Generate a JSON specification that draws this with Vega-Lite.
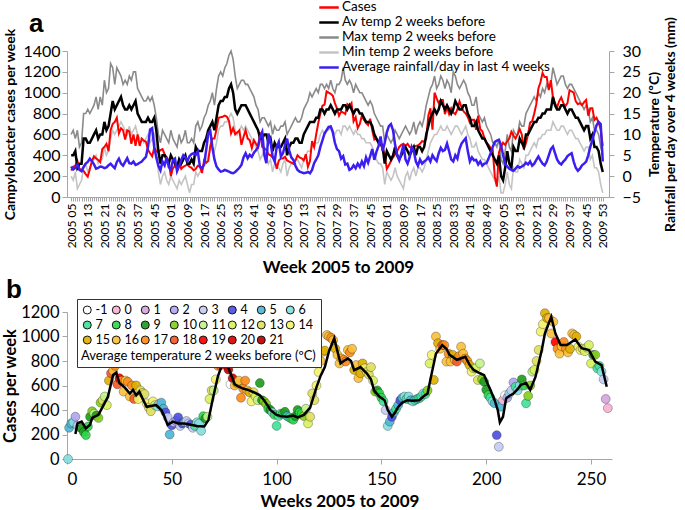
{
"$schema":"https://vega.github.io/schema/vega-lite/v6.json",
"padding":{"left":2,"top":0,"right":0,"bottom":0},
"config":{"font":"Lato","view":{"stroke":null},"axis":{"grid":false,"domainColor":"#a6a6a6","tickColor":"#a6a6a6","labelColor":"#000","titleColor":"#000"}},
"datasets":{
"wk":[
{"i":1,"c":255,"t":5,"x":10,"n":0,"r":2.3},{"i":2,"c":290,"t":5,"x":11,"n":-1,"r":1.6},{"i":3,"c":300,"t":6,"x":9,"n":1,"r":2.0},{"i":4,"c":345,"t":2,"x":11,"n":-3,"r":2.8},{"i":5,"c":270,"t":3,"x":7,"n":-2,"r":1.5},{"i":6,"c":260,"t":3,"x":8,"n":-1,"r":1.2},{"i":7,"c":250,"t":9,"x":15,"n":2,"r":2.2},{"i":8,"c":220,"t":9,"x":15,"n":3,"r":3.0},{"i":9,"c":195,"t":8,"x":16,"n":1,"r":3.4},{"i":10,"c":265,"t":8,"x":15,"n":2,"r":4.2},
{"i":11,"c":345,"t":9,"x":16,"n":3,"r":3.6},{"i":12,"c":390,"t":10,"x":17,"n":4,"r":2.8},{"i":13,"c":370,"t":11,"x":19,"n":5,"r":1.8},{"i":14,"c":355,"t":9,"x":16,"n":3,"r":2.0},{"i":15,"c":335,"t":10,"x":19,"n":4,"r":2.3},{"i":16,"c":460,"t":10,"x":17,"n":4,"r":2.2},{"i":17,"c":480,"t":13,"x":23,"n":7,"r":1.9},{"i":18,"c":510,"t":11,"x":20,"n":5,"r":2.1},{"i":19,"c":440,"t":12,"x":21,"n":6,"r":2.6},{"i":20,"c":640,"t":15,"x":27,"n":9,"r":3.0},
{"i":21,"c":700,"t":18,"x":26,"n":11,"r":2.4},{"i":22,"c":720,"t":16,"x":22,"n":10,"r":1.9},{"i":23,"c":760,"t":17,"x":26,"n":11,"r":3.4},{"i":24,"c":610,"t":18,"x":25,"n":12,"r":4.2},{"i":25,"c":660,"t":19,"x":24,"n":13,"r":3.0},{"i":26,"c":640,"t":17,"x":22,"n":12,"r":2.5},{"i":27,"c":550,"t":16,"x":23,"n":11,"r":3.4},{"i":28,"c":640,"t":16,"x":22,"n":10,"r":4.3},{"i":29,"c":630,"t":17,"x":24,"n":12,"r":3.1},{"i":30,"c":510,"t":16,"x":23,"n":10,"r":3.0},
{"i":31,"c":600,"t":17,"x":25,"n":11,"r":3.5},{"i":32,"c":490,"t":18,"x":25,"n":12,"r":2.7},{"i":33,"c":600,"t":15,"x":21,"n":10,"r":2.9},{"i":34,"c":490,"t":14,"x":20,"n":9,"r":3.2},{"i":35,"c":560,"t":13,"x":19,"n":9,"r":3.5},{"i":36,"c":540,"t":13,"x":18,"n":8,"r":4.1},{"i":37,"c":530,"t":13,"x":18,"n":9,"r":4.6},{"i":38,"c":455,"t":14,"x":19,"n":10,"r":7.0},{"i":39,"c":420,"t":13,"x":18,"n":8,"r":11.2},{"i":40,"c":390,"t":13,"x":19,"n":9,"r":11.5},
{"i":41,"c":470,"t":14,"x":17,"n":10,"r":7.0},{"i":42,"c":440,"t":11,"x":14,"n":7,"r":4.5},{"i":43,"c":430,"t":6,"x":10,"n":1,"r":2.5},{"i":44,"c":450,"t":3,"x":8,"n":-2,"r":1.4},{"i":45,"c":460,"t":5,"x":11,"n":0,"r":3.5},{"i":46,"c":410,"t":5,"x":10,"n":1,"r":2.6},{"i":47,"c":380,"t":4,"x":9,"n":-1,"r":4.6},{"i":48,"c":340,"t":3,"x":8,"n":-2,"r":2.2},{"i":49,"c":200,"t":5,"x":11,"n":0,"r":1.5},{"i":50,"c":275,"t":4,"x":9,"n":-1,"r":3.8},
{"i":51,"c":300,"t":3,"x":8,"n":-2,"r":4.2},{"i":52,"c":310,"t":2,"x":7,"n":-3,"r":1.2},{"i":53,"c":340,"t":4,"x":10,"n":-1,"r":2.4},{"i":54,"c":270,"t":3,"x":8,"n":-2,"r":3.8},{"i":55,"c":290,"t":4,"x":9,"n":-1,"r":5.0},{"i":56,"c":300,"t":5,"x":11,"n":0,"r":4.5},{"i":57,"c":310,"t":3,"x":8,"n":-2,"r":3.6},{"i":58,"c":290,"t":3,"x":8,"n":-4,"r":4.8},{"i":59,"c":280,"t":4,"x":9,"n":-2,"r":5.3},{"i":60,"c":255,"t":3,"x":8,"n":-2,"r":5.5},
{"i":61,"c":270,"t":7,"x":12,"n":1,"r":5.1},{"i":62,"c":300,"t":6,"x":13,"n":0,"r":5.9},{"i":63,"c":290,"t":6,"x":11,"n":1,"r":2.3},{"i":64,"c":230,"t":6,"x":12,"n":1,"r":1.9},{"i":65,"c":350,"t":8,"x":14,"n":3,"r":2.7},{"i":66,"c":330,"t":9,"x":15,"n":3,"r":6.2},{"i":67,"c":345,"t":11,"x":17,"n":5,"r":10.2},{"i":68,"c":490,"t":12,"x":18,"n":6,"r":10.8},{"i":69,"c":560,"t":13,"x":20,"n":7,"r":7.0},{"i":70,"c":560,"t":11,"x":17,"n":6,"r":4.0},
{"i":71,"c":650,"t":14,"x":21,"n":8,"r":2.3},{"i":72,"c":760,"t":17,"x":24,"n":11,"r":1.6},{"i":73,"c":765,"t":18,"x":25,"n":12,"r":1.1},{"i":74,"c":770,"t":18,"x":24,"n":12,"r":1.2},{"i":75,"c":780,"t":19,"x":26,"n":13,"r":1.5},{"i":76,"c":770,"t":19,"x":27,"n":13,"r":1.3},{"i":77,"c":730,"t":21,"x":29,"n":14,"r":1.1},{"i":78,"c":610,"t":22,"x":30,"n":15,"r":0.8},{"i":79,"c":660,"t":20,"x":28,"n":14,"r":0.7},{"i":80,"c":600,"t":16,"x":24,"n":11,"r":1.0},
{"i":81,"c":620,"t":15,"x":21,"n":10,"r":1.5},{"i":82,"c":640,"t":16,"x":22,"n":11,"r":2.0},{"i":83,"c":500,"t":17,"x":23,"n":12,"r":2.7},{"i":84,"c":575,"t":17,"x":23,"n":11,"r":4.5},{"i":85,"c":640,"t":17,"x":22,"n":12,"r":5.5},{"i":86,"c":560,"t":16,"x":22,"n":11,"r":4.3},{"i":87,"c":545,"t":15,"x":21,"n":10,"r":5.1},{"i":88,"c":470,"t":14,"x":20,"n":9,"r":4.6},{"i":89,"c":545,"t":13,"x":19,"n":8,"r":5.6},{"i":90,"c":510,"t":12,"x":17,"n":7,"r":6.2},
{"i":91,"c":480,"t":11,"x":16,"n":6,"r":7.0},{"i":92,"c":620,"t":9,"x":13,"n":4,"r":9.5},{"i":93,"c":480,"t":9,"x":14,"n":5,"r":10.6},{"i":94,"c":470,"t":10,"x":14,"n":6,"r":5.1},{"i":95,"c":450,"t":10,"x":13,"n":5,"r":3.1},{"i":96,"c":410,"t":8,"x":12,"n":3,"r":10.2},{"i":97,"c":400,"t":9,"x":13,"n":4,"r":8.2},{"i":98,"c":380,"t":6,"x":10,"n":1,"r":4.7},{"i":99,"c":360,"t":8,"x":12,"n":3,"r":3.5},{"i":100,"c":270,"t":7,"x":11,"n":2,"r":7.0},
{"i":101,"c":350,"t":7,"x":11,"n":2,"r":8.2},{"i":102,"c":370,"t":7,"x":12,"n":1,"r":4.7},{"i":103,"c":370,"t":8,"x":12,"n":3,"r":5.5},{"i":104,"c":385,"t":9,"x":13,"n":4,"r":7.5},{"i":105,"c":350,"t":5,"x":10,"n":0,"r":9.0},{"i":106,"c":340,"t":7,"x":11,"n":2,"r":6.2},{"i":107,"c":330,"t":8,"x":12,"n":3,"r":4.5},{"i":108,"c":320,"t":8,"x":13,"n":3,"r":3.9},{"i":109,"c":350,"t":9,"x":14,"n":4,"r":2.5},{"i":110,"c":400,"t":9,"x":13,"n":4,"r":1.5},
{"i":111,"c":380,"t":8,"x":13,"n":3,"r":1.1},{"i":112,"c":370,"t":8,"x":14,"n":2,"r":0.9},{"i":113,"c":350,"t":10,"x":16,"n":4,"r":0.7},{"i":114,"c":410,"t":11,"x":17,"n":5,"r":0.8},{"i":115,"c":290,"t":12,"x":18,"n":6,"r":1.0},{"i":116,"c":345,"t":13,"x":20,"n":6,"r":0.7},{"i":117,"c":535,"t":13,"x":19,"n":7,"r":1.5},{"i":118,"c":480,"t":13,"x":20,"n":7,"r":3.1},{"i":119,"c":600,"t":14,"x":21,"n":8,"r":4.0},{"i":120,"c":710,"t":14,"x":20,"n":8,"r":5.0},
{"i":121,"c":800,"t":16,"x":22,"n":10,"r":7.0},{"i":122,"c":875,"t":16,"x":22,"n":11,"r":8.6},{"i":123,"c":885,"t":15,"x":21,"n":10,"r":10.2},{"i":124,"c":1012,"t":16,"x":22,"n":11,"r":11.0},{"i":125,"c":1000,"t":16,"x":21,"n":11,"r":11.8},{"i":126,"c":990,"t":17,"x":23,"n":12,"r":11.9},{"i":127,"c":970,"t":16,"x":21,"n":11,"r":10.5},{"i":128,"c":900,"t":15,"x":20,"n":10,"r":8.0},{"i":129,"c":850,"t":16,"x":22,"n":11,"r":6.5},{"i":130,"c":780,"t":16,"x":22,"n":11,"r":6.0},
{"i":131,"c":820,"t":16,"x":23,"n":10,"r":4.2},{"i":132,"c":810,"t":17,"x":26,"n":12,"r":4.8},{"i":133,"c":795,"t":17,"x":23,"n":12,"r":2.8},{"i":134,"c":890,"t":16,"x":22,"n":11,"r":3.0},{"i":135,"c":870,"t":17,"x":23,"n":12,"r":1.5},{"i":136,"c":900,"t":16,"x":22,"n":11,"r":1.8},{"i":137,"c":727,"t":15,"x":20,"n":10,"r":2.6},{"i":138,"c":767,"t":16,"x":22,"n":11,"r":1.9},{"i":139,"c":660,"t":16,"x":21,"n":10,"r":3.0},{"i":140,"c":700,"t":15,"x":20,"n":10,"r":2.2},
{"i":141,"c":780,"t":15,"x":20,"n":9,"r":3.5},{"i":142,"c":740,"t":14,"x":19,"n":9,"r":2.4},{"i":143,"c":710,"t":13,"x":18,"n":8,"r":4.5},{"i":144,"c":690,"t":13,"x":17,"n":8,"r":3.2},{"i":145,"c":750,"t":13,"x":18,"n":8,"r":4.8},{"i":146,"c":640,"t":12,"x":17,"n":7,"r":6.5},{"i":147,"c":550,"t":10,"x":15,"n":5,"r":3.9},{"i":148,"c":560,"t":9,"x":14,"n":4,"r":5.8},{"i":149,"c":535,"t":8,"x":13,"n":3,"r":7.2},{"i":150,"c":500,"t":8,"x":12,"n":3,"r":9.5},
{"i":151,"c":470,"t":7,"x":12,"n":2,"r":6.0},{"i":152,"c":400,"t":3,"x":8,"n":-2,"r":8.0},{"i":153,"c":270,"t":6,"x":10,"n":1,"r":10.5},{"i":154,"c":305,"t":5,"x":9,"n":0,"r":12.0},{"i":155,"c":345,"t":4,"x":8,"n":-1,"r":12.5},{"i":156,"c":380,"t":5,"x":9,"n":0,"r":11.0},{"i":157,"c":410,"t":7,"x":11,"n":2,"r":7.5},{"i":158,"c":440,"t":5,"x":10,"n":0,"r":5.0},{"i":159,"c":480,"t":4,"x":9,"n":-1,"r":3.8},{"i":160,"c":500,"t":5,"x":10,"n":-2,"r":5.5},
{"i":161,"c":510,"t":6,"x":11,"n":-3,"r":7.5},{"i":162,"c":490,"t":7,"x":12,"n":0,"r":4.0},{"i":163,"c":510,"t":6,"x":11,"n":1,"r":3.0},{"i":164,"c":480,"t":5,"x":10,"n":-1,"r":4.5},{"i":165,"c":470,"t":6,"x":11,"n":1,"r":7.0},{"i":166,"c":480,"t":7,"x":13,"n":2,"r":6.0},{"i":167,"c":490,"t":5,"x":10,"n":0,"r":3.5},{"i":168,"c":495,"t":7,"x":12,"n":2,"r":2.5},{"i":169,"c":510,"t":7,"x":13,"n":2,"r":4.0},{"i":170,"c":535,"t":6,"x":12,"n":1,"r":3.0},
{"i":171,"c":530,"t":7,"x":14,"n":2,"r":3.5},{"i":172,"c":560,"t":10,"x":17,"n":4,"r":3.9},{"i":173,"c":780,"t":12,"x":19,"n":6,"r":4.5},{"i":174,"c":850,"t":14,"x":21,"n":8,"r":3.5},{"i":175,"c":645,"t":15,"x":22,"n":9,"r":5.0},{"i":176,"c":1000,"t":16,"x":24,"n":10,"r":4.2},{"i":177,"c":945,"t":15,"x":21,"n":10,"r":3.6},{"i":178,"c":900,"t":16,"x":22,"n":11,"r":5.5},{"i":179,"c":930,"t":18,"x":24,"n":12,"r":6.8},{"i":180,"c":930,"t":17,"x":23,"n":11,"r":6.0},
{"i":181,"c":795,"t":16,"x":21,"n":11,"r":6.3},{"i":182,"c":860,"t":17,"x":23,"n":12,"r":7.8},{"i":183,"c":795,"t":16,"x":22,"n":11,"r":6.0},{"i":184,"c":850,"t":15,"x":20,"n":10,"r":4.0},{"i":185,"c":810,"t":16,"x":25,"n":11,"r":3.5},{"i":186,"c":795,"t":18,"x":24,"n":12,"r":5.0},{"i":187,"c":840,"t":17,"x":22,"n":12,"r":4.2},{"i":188,"c":917,"t":16,"x":21,"n":11,"r":6.5},{"i":189,"c":860,"t":16,"x":22,"n":10,"r":7.8},{"i":190,"c":820,"t":17,"x":23,"n":11,"r":8.5},
{"i":191,"c":800,"t":17,"x":22,"n":12,"r":9.1},{"i":192,"c":767,"t":15,"x":20,"n":10,"r":6.0},{"i":193,"c":713,"t":14,"x":19,"n":9,"r":3.5},{"i":194,"c":740,"t":12,"x":17,"n":7,"r":4.5},{"i":195,"c":740,"t":12,"x":17,"n":7,"r":3.8},{"i":196,"c":645,"t":13,"x":19,"n":8,"r":3.9},{"i":197,"c":780,"t":11,"x":15,"n":6,"r":2.8},{"i":198,"c":650,"t":10,"x":14,"n":5,"r":3.5},{"i":199,"c":630,"t":9,"x":13,"n":4,"r":2.5},{"i":200,"c":565,"t":9,"x":14,"n":4,"r":3.0},
{"i":201,"c":522,"t":8,"x":12,"n":3,"r":3.1},{"i":202,"c":500,"t":7,"x":11,"n":2,"r":4.2},{"i":203,"c":470,"t":6,"x":10,"n":1,"r":5.5},{"i":204,"c":455,"t":5,"x":8,"n":0,"r":7.0},{"i":205,"c":195,"t":4,"x":8,"n":-1,"r":8.2},{"i":206,"c":100,"t":3,"x":7,"n":-2,"r":8.5},{"i":207,"c":427,"t":5,"x":9,"n":0,"r":8.7},{"i":208,"c":480,"t":0,"x":4,"n":-4,"r":7.5},{"i":209,"c":520,"t":-1,"x":3,"n":-4,"r":5.0},{"i":210,"c":500,"t":2,"x":6,"n":-2,"r":3.0},
{"i":211,"c":535,"t":6,"x":10,"n":1,"r":2.3},{"i":212,"c":560,"t":3,"x":7,"n":-2,"r":1.8},{"i":213,"c":625,"t":2,"x":6,"n":-3,"r":1.5},{"i":214,"c":590,"t":7,"x":11,"n":2,"r":1.3},{"i":215,"c":560,"t":6,"x":10,"n":1,"r":1.8},{"i":216,"c":600,"t":6,"x":10,"n":1,"r":2.4},{"i":217,"c":650,"t":9,"x":13,"n":4,"r":2.0},{"i":218,"c":600,"t":8,"x":12,"n":3,"r":2.3},{"i":219,"c":455,"t":7,"x":12,"n":2,"r":2.6},{"i":220,"c":515,"t":10,"x":15,"n":5,"r":3.2},
{"i":221,"c":600,"t":10,"x":16,"n":5,"r":2.8},{"i":222,"c":713,"t":11,"x":17,"n":6,"r":3.5},{"i":223,"c":727,"t":12,"x":18,"n":7,"r":2.5},{"i":224,"c":800,"t":13,"x":19,"n":8,"r":3.0},{"i":225,"c":890,"t":13,"x":18,"n":7,"r":3.9},{"i":226,"c":1040,"t":14,"x":20,"n":9,"r":4.7},{"i":227,"c":1100,"t":14,"x":19,"n":9,"r":3.8},{"i":228,"c":1190,"t":15,"x":21,"n":10,"r":3.0},{"i":229,"c":1150,"t":15,"x":20,"n":10,"r":2.6},{"i":230,"c":1150,"t":16,"x":22,"n":11,"r":3.5},
{"i":231,"c":1025,"t":16,"x":21,"n":11,"r":5.0},{"i":232,"c":1120,"t":16,"x":22,"n":11,"r":6.5},{"i":233,"c":955,"t":19,"x":26,"n":13,"r":7.1},{"i":234,"c":900,"t":17,"x":24,"n":12,"r":5.5},{"i":235,"c":860,"t":16,"x":22,"n":11,"r":4.0},{"i":236,"c":920,"t":16,"x":23,"n":11,"r":3.2},{"i":237,"c":955,"t":17,"x":24,"n":12,"r":2.8},{"i":238,"c":900,"t":17,"x":24,"n":12,"r":3.5},{"i":239,"c":870,"t":16,"x":22,"n":11,"r":4.0},{"i":240,"c":900,"t":15,"x":21,"n":10,"r":4.8},
{"i":241,"c":1025,"t":16,"x":22,"n":11,"r":5.2},{"i":242,"c":1012,"t":16,"x":22,"n":11,"r":5.5},{"i":243,"c":1000,"t":15,"x":21,"n":10,"r":3.5},{"i":244,"c":917,"t":14,"x":20,"n":9,"r":2.0},{"i":245,"c":890,"t":14,"x":19,"n":9,"r":1.3},{"i":246,"c":900,"t":13,"x":18,"n":8,"r":1.8},{"i":247,"c":880,"t":12,"x":17,"n":7,"r":2.6},{"i":248,"c":910,"t":11,"x":16,"n":6,"r":3.0},{"i":249,"c":930,"t":12,"x":17,"n":7,"r":3.5},{"i":250,"c":780,"t":12,"x":16,"n":7,"r":5.0},
{"i":251,"c":850,"t":9,"x":13,"n":4,"r":7.0},{"i":252,"c":850,"t":10,"x":14,"n":5,"r":8.7},{"i":253,"c":740,"t":7,"x":11,"n":2,"r":10.5},{"i":254,"c":760,"t":7,"x":11,"n":2,"r":12.2},{"i":255,"c":713,"t":6,"x":10,"n":1,"r":13.0},{"i":256,"c":650,"t":3,"x":7,"n":-2,"r":12.5},{"i":257,"c":490,"t":1,"x":5,"n":-4,"r":3.5}
],
"ext":[{"i":0.5,"c":0,"t":6},{"i":258,"c":415,"t":0}],
"sm":[
{"i":4,"c":205},{"i":5,"c":290},{"i":7,"c":305},{"i":9,"c":250},{"i":11,"c":280},{"i":12,"c":335},{"i":15,"c":360},{"i":17,"c":426},{"i":19.5,"c":508},{"i":22,"c":685},{"i":23.5,"c":705},{"i":25,"c":620},{"i":27.5,"c":585},{"i":30,"c":535},{"i":31.5,"c":565},{"i":33,"c":520},{"i":34.5,"c":550},{"i":36,"c":495},{"i":38,"c":426},{"i":40,"c":432},{"i":42.5,"c":440},{"i":45,"c":400},{"i":46.5,"c":345},{"i":48,"c":278},{"i":50.5,"c":305},{"i":53,"c":290},{"i":56,"c":290},{"i":59,"c":280},{"i":62,"c":270},{"i":65.5,"c":265},{"i":67.5,"c":320},{"i":69.5,"c":485},{"i":72,"c":675},{"i":74,"c":770},{"i":76.5,"c":765},{"i":78,"c":700},{"i":80,"c":610},{"i":82,"c":590},{"i":84,"c":575},{"i":87,"c":560},{"i":89,"c":545},{"i":92,"c":520},{"i":94,"c":480},{"i":96,"c":430},{"i":97,"c":400},{"i":100,"c":360},{"i":102,"c":350},{"i":105,"c":345},{"i":108,"c":355},{"i":110,"c":340},{"i":113,"c":360},{"i":116,"c":420},{"i":119,"c":585},{"i":121,"c":680},{"i":123,"c":750},{"i":125,"c":880},{"i":127.5,"c":985},{"i":129,"c":880},{"i":130.5,"c":780},{"i":132,"c":800},{"i":134,"c":820},{"i":135.5,"c":800},{"i":137,"c":725},{"i":140,"c":750},{"i":143,"c":700},{"i":145,"c":650},{"i":146.5,"c":560},{"i":149,"c":510},{"i":151.5,"c":480},{"i":153,"c":400},{"i":155,"c":345},{"i":156.5,"c":380},{"i":158,"c":425},{"i":160,"c":460},{"i":162.5,"c":480},{"i":165,"c":475},{"i":168,"c":480},{"i":170,"c":510},{"i":172,"c":535},{"i":174,"c":700},{"i":176,"c":860},{"i":179,"c":930},{"i":181,"c":900},{"i":182.5,"c":850},{"i":186,"c":810},{"i":190,"c":835},{"i":192,"c":770},{"i":194,"c":727},{"i":197,"c":700},{"i":199,"c":685},{"i":200.5,"c":620},{"i":202,"c":565},{"i":204,"c":480},{"i":205.5,"c":400},{"i":206.5,"c":300},{"i":208,"c":345},{"i":209.5,"c":495},{"i":211,"c":515},{"i":213,"c":535},{"i":215,"c":570},{"i":216.5,"c":605},{"i":219,"c":620},{"i":221,"c":565},{"i":223.5,"c":670},{"i":226.5,"c":890},{"i":228,"c":1025},{"i":231,"c":1160},{"i":233,"c":1025},{"i":235.5,"c":930},{"i":238.5,"c":930},{"i":242.5,"c":975},{"i":245.5,"c":905},{"i":249,"c":890},{"i":252,"c":795},{"i":255,"c":767},{"i":257.5,"c":590}
]
},
"vconcat":[
{
"width":542,"height":146,
"title":{"text":"a","anchor":"start","frame":"group","font":"Liberation Sans","fontSize":26,"fontWeight":"bold","dx":-38,"offset":-37},
"data":{"name":"wk"},
"encoding":{"x":{"field":"i","type":"quantitative","scale":{"domain":[-1,260],"nice":false,"zero":false},
"axis":{"values":[1,2,3,4,5,6,7,8,9,10,11,12,13,14,15,16,17,18,19,20,21,22,23,24,25,26,27,28,29,30,31,32,33,34,35,36,37,38,39,40,41,42,43,44,45,46,47,48,49,50,51,52,53,54,55,56,57,58,59,60,61,62,63,64,65,66,67,68,69,70,71,72,73,74,75,76,77,78,79,80,81,82,83,84,85,86,87,88,89,90,91,92,93,94,95,96,97,98,99,100,101,102,103,104,105,106,107,108,109,110,111,112,113,114,115,116,117,118,119,120,121,122,123,124,125,126,127,128,129,130,131,132,133,134,135,136,137,138,139,140,141,142,143,144,145,146,147,148,149,150,151,152,153,154,155,156,157,158,159,160,161,162,163,164,165,166,167,168,169,170,171,172,173,174,175,176,177,178,179,180,181,182,183,184,185,186,187,188,189,190,191,192,193,194,195,196,197,198,199,200,201,202,203,204,205,206,207,208,209,210,211,212,213,214,215,216,217,218,219,220,221,222,223,224,225,226,227,228,229,230,231,232,233,234,235,236,237,238,239,240,241,242,243,244,245,246,247,248,249,250,251,252,253,254,255,256,257],
"labelExpr":"(datum.value-1)%8==0 ? ['2005 05','2005 13','2005 21','2005 29','2005 37','2005 45','2006 01','2006 09','2006 17','2006 25','2006 33','2006 41','2006 49','2007 05','2007 13','2007 21','2007 29','2007 37','2007 45','2008 01','2008 09','2008 17','2008 25','2008 33','2008 41','2008 49','2009 05','2009 13','2009 21','2009 29','2009 37','2009 45','2009 53'][(datum.value-1)/8] : ''",
"labelAngle":270,"labelFontSize":12,"labelOverlap":false,"labelBound":false,"labelFlush":false,"labelPadding":2,"tickSize":4,
"title":"Week 2005 to 2009","titleFontSize":17,"titleFontWeight":"bold","titlePadding":12}}},
"layer":[
{"transform":[{"fold":["x","n"],"as":["k","v"]}],
"mark":{"type":"line","strokeWidth":1.6},
"encoding":{"y":{"field":"v","type":"quantitative","scale":{"domain":[-5,30],"nice":false,"zero":false},
"axis":{"orient":"right","values":[-5,0,5,10,15,20,25,30],"labelFontSize":16,"tickSize":5,"labelPadding":8,"title":["Temperature (ºC)","Rainfall per day over 4 weeks (mm)"],"titleAngle":270,"titleFontSize":14,"titleFontWeight":"bold","titlePadding":5,"titleLineHeight":16}},
"color":{"field":"k","type":"nominal","scale":{"domain":["c","t","x","n","r"],"range":["#ff0000","#000000","#8a8a8a","#c4c4c4","#3b1ff2"]},
"legend":{"orient":"none","legendX":251,"legendY":-51,"title":null,"symbolType":"stroke","symbolStrokeWidth":2.5,"symbolSize":380,"clipHeight":14.75,"labelFontSize":13.5,"labelOffset":2,"rowPadding":0,"labelLimit":400,
"labelExpr":"datum.value=='c' ? 'Cases' : datum.value=='t' ? 'Av temp 2 weeks before' : datum.value=='x' ? 'Max temp 2 weeks before' : datum.value=='n' ? 'Min temp 2 weeks before' : 'Average rainfall/day in last 4 weeks'"}}}},
{"transform":[{"fold":["c"],"as":["k","v"]}],
"mark":{"type":"line","strokeWidth":2},
"encoding":{"y":{"field":"v","type":"quantitative","scale":{"domain":[0,1400],"nice":false},
"axis":{"orient":"left","values":[0,200,400,600,800,1000,1200,1400],"format":"d","labelFontSize":16,"tickSize":5,"labelPadding":2,"title":"Campylobacter cases per week","titleFontSize":14,"titleFontWeight":"bold","titlePadding":5}},
"color":{"field":"k","type":"nominal"}}},
{"transform":[{"fold":["t","r"],"as":["k","v"]}],
"mark":{"type":"line","strokeWidth":2.5},
"encoding":{"y":{"field":"v","type":"quantitative","scale":{"domain":[-5,30],"nice":false,"zero":false},"axis":null},
"color":{"field":"k","type":"nominal"}}}
],
"resolve":{"scale":{"y":"independent"}}
},
{
"width":545,"height":147,
"title":{"text":"b","anchor":"start","frame":"group","font":"Liberation Sans","fontSize":26,"fontWeight":"bold","dx":-61,"offset":-4},
"encoding":{
"x":{"field":"i","type":"quantitative","scale":{"domain":[0,260],"nice":false},"axis":{"values":[0,50,100,150,200,250],"labelFontSize":17,"tickSize":5,"labelPadding":7,"title":"Weeks 2005 to 2009","titleFontSize":17,"titleFontWeight":"bold","titlePadding":6}},
"y":{"field":"c","type":"quantitative","scale":{"domain":[0,1200],"nice":false},"axis":{"values":[0,200,400,600,800,1000,1200],"format":"d","labelFontSize":16.5,"tickSize":5,"labelPadding":3,"title":"Cases per week","titleFontSize":16.5,"titleFontWeight":"bold","titlePadding":2}},
"fill":{"field":"t","type":"ordinal","scale":{"domain":[-1,0,1,2,3,4,5,6,7,8,9,10,11,12,13,14,15,16,17,18,19,20,21],"range":["#ffffff","#f7b3d5","#d6a6e0","#b3a6f2","#c6cdf5","#4f4fe3","#4fb8d6","#86dede","#3fe39a","#2fd64f","#1f9e1f","#84d11f","#c2f28a","#d9f25f","#e0e05f","#f5f26b","#e0b000","#fbbf3b","#ff8c1a","#f45a2a","#ff0000","#e00000","#c00000"]},
"legend":{"orient":"none","legendX":10,"legendY":-13,"direction":"horizontal","columns":8,"gridAlign":"all","columnPadding":0,"rowPadding":1,"clipHeight":14,"symbolSize":64,"symbolStrokeWidth":1,"labelFontSize":12.5,"labelOffset":2,"title":"Average temperature 2 weeks before (ºC)","titleOrient":"bottom","titleFontSize":13,"titleFontWeight":"normal","titlePadding":3,"titleLimit":400,"strokeColor":"#333333","fillColor":"#ffffff","padding":4}}
},
"layer":[
{"data":{"name":"wk"},"mark":{"type":"circle","size":80,"stroke":"#000000","strokeOpacity":0.3,"strokeWidth":1,"opacity":0.92}},
{"data":{"name":"ext"},"mark":{"type":"circle","size":80,"stroke":"#000000","strokeOpacity":0.3,"strokeWidth":1,"opacity":0.92}},
{"data":{"name":"sm"},"mark":{"type":"line","color":"#000000","strokeWidth":2.5},"encoding":{"fill":{"value":null}}}
]
}
],
"bounds":"flush",
"spacing":115,
"resolve":{"scale":{"x":"independent","y":"independent","color":"independent","fill":"independent"}}
}
